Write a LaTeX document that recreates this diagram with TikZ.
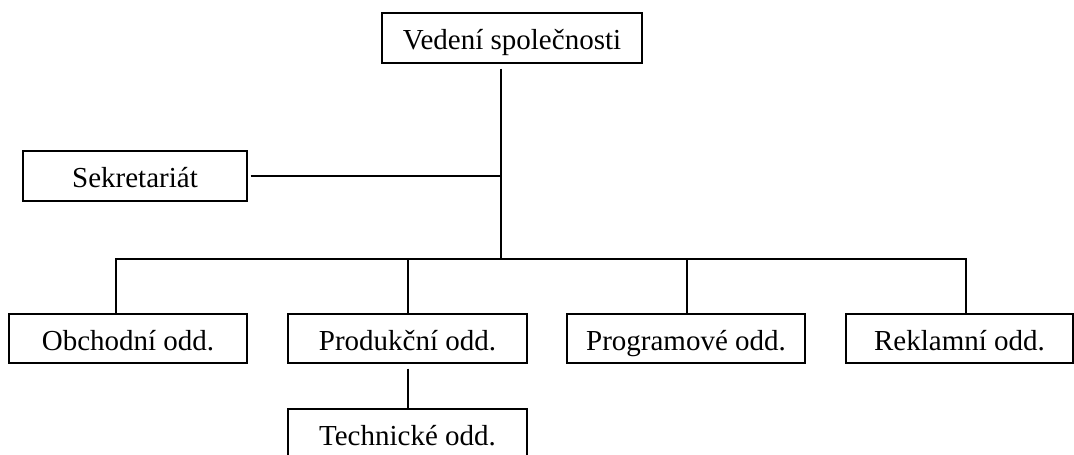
\documentclass[tikz,border=0pt]{standalone}
\usepackage{fontspec}
\setmainfont{Liberation Serif}
\begin{document}
\begin{tikzpicture}[x=1pt,y=1pt,
  box/.style={draw, line width=1.3pt, minimum height=50pt, inner sep=0pt, text height=26pt, text depth=3pt, font=\fontsize{29}{34}\selectfont},
  conn/.style={line width=1.3pt}]
\useasboundingbox (0,0) rectangle (1074,-455);
\clip (0,0) rectangle (1074,-455);
\fill[white] (0,0) rectangle (1074,-455);
\node[box, minimum width=260pt] (top) at (512,-38) {Vedení společnosti};
\node[box, minimum width=224pt] (sek) at (135,-176) {Sekretariát};
\node[box, minimum width=238pt, minimum height=49pt] (ob) at (128,-338.5) {Obchodní odd.};
\node[box, minimum width=239pt, minimum height=49pt] (pr) at (407.5,-338.5) {Produkční odd.};
\node[box, minimum width=238pt, minimum height=49pt] (pg) at (686,-338.5) {Programové odd.};
\node[box, minimum width=227pt, minimum height=49pt] (rk) at (959.5,-338.5) {Reklamní odd.};
\node[box, minimum width=239pt] (te) at (407.5,-434) {Technické odd.};
\coordinate (jT) at (501,-259);
\coordinate (jO) at (116,-259);
\coordinate (jP) at (408,-259);
\coordinate (jG) at (687,-259);
\coordinate (jR) at (966,-259);
\coordinate (tb) at ([yshift=-5pt]top.south);
\coordinate (pb) at ([yshift=-5pt]pr.south);
\draw[conn] (tb -| jT) -- (jT);
\draw[conn] ([xshift=3pt]sek.east) -- (sek.east -| jT);
\draw[conn] (jO |- ob.north) -- (jO) -- (jR) -- (jR |- rk.north);
\draw[conn] (jP) -- (jP |- pr.north);
\draw[conn] (jG) -- (jG |- pg.north);
\draw[conn] (pb -| jP) -- (jP |- te.north);
\end{tikzpicture}
\end{document}
